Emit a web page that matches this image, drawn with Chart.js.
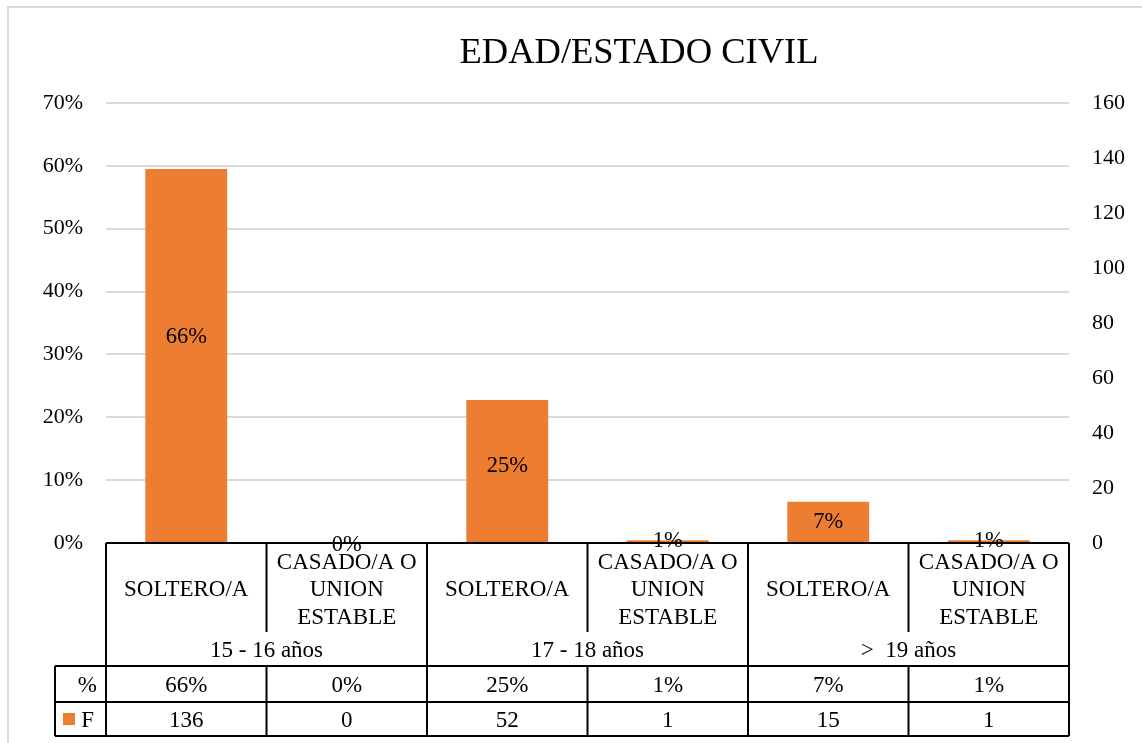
<!DOCTYPE html>
<html lang="es">

<head>
    <meta charset="UTF-8">
    <title>Edad / Estado civil</title>
    <script src="https://cdn.jsdelivr.net/npm/chart.js"></script>
    <style>
        body {
            margin: 0;
            background: #fff;
        }

        #wrap {
            width: 1142px;
            height: 743px;
        }
    </style>
</head>

<body>
    <div id="wrap"><canvas id="chart" width="1142" height="743"></canvas></div>

    <script>
        // datos
        const subCategorias = ['SOLTERO/A', 'CASADO/A O\nUNION\nESTABLE', 'SOLTERO/A', 'CASADO/A O\nUNION\nESTABLE', 'SOLTERO/A', 'CASADO/A O\nUNION\nESTABLE'];
        const grupos = ['15 - 16 años', '17 - 18 años', '>  19 años'];
        const frecuencia = [136, 0, 52, 1, 15, 1];
        const porcentaje = [0.66, 0, 0.25, 0.01, 0.07, 0.01];
        const ticksPct = [0, 0.1, 0.2, 0.3, 0.4, 0.5, 0.6, 0.7];
        const ticksF = [0, 20, 40, 60, 80, 100, 120, 140, 160];
        const titulo = 'EDAD/ESTADO CIVIL';

        const FUENTE = '"Liberation Serif", "Times New Roman", serif';
        const NARANJA = '#ED7D31';
        const pctTxt = v => Math.round(v * 100) + '%';

        // marco gris exterior + título (desplazado a la derecha como en Excel)
        const marco = {
            id: 'marco',
            beforeDraw(chart) {
                const ctx = chart.ctx;
                ctx.save();
                ctx.strokeStyle = '#d9d9d9';
                ctx.lineWidth = 2;
                ctx.beginPath();
                ctx.moveTo(8, 743);
                ctx.lineTo(8, 7);
                ctx.lineTo(1142, 7);
                ctx.stroke();

                ctx.fillStyle = '#000';
                ctx.font = '36.5px ' + FUENTE;
                ctx.textAlign = 'center';
                ctx.textBaseline = 'alphabetic';
                ctx.fillText(titulo, 639, 63);
                ctx.restore();
            }
        };

        // etiquetas dentro de las barras (serie % invisible)
        const etiquetas = {
            id: 'etiquetas',
            afterDatasetsDraw(chart) {
                const ctx = chart.ctx;
                const meta = chart.getDatasetMeta(1);
                ctx.save();
                ctx.font = '22.5px ' + FUENTE;
                ctx.fillStyle = '#000';
                ctx.textAlign = 'center';
                ctx.textBaseline = 'middle';
                meta.data.forEach((bar, i) => {
                    ctx.fillText(pctTxt(porcentaje[i]), bar.x, (bar.y + bar.base) / 2 + 2);
                });
                ctx.restore();
            }
        };

        // tabla de datos bajo el eje
        const tabla = {
            id: 'tabla',
            afterDraw(chart) {
                const ctx = chart.ctx;
                const area = chart.chartArea;
                const x = chart.scales.x;
                const n = subCategorias.length;
                const w = (area.right - area.left) / n;
                const y0 = area.bottom;
                const yCat = 632, yGrp = 666, yPct = 702, yF = 736, xLeg = 55;

                ctx.save();
                ctx.strokeStyle = '#000';
                ctx.lineWidth = 2;
                ctx.beginPath();
                ctx.moveTo(area.left, y0); ctx.lineTo(area.right, y0);
                [yGrp, yPct, yF].forEach(y => { ctx.moveTo(xLeg, y); ctx.lineTo(area.right, y); });
                ctx.moveTo(xLeg, yGrp); ctx.lineTo(xLeg, yF);
                for (let i = 0; i <= n; i++) {
                    const xx = area.left + i * w;
                    if (i % 2 === 0) {
                        ctx.moveTo(xx, y0); ctx.lineTo(xx, yF);
                    } else {
                        ctx.moveTo(xx, y0); ctx.lineTo(xx, yCat);
                        ctx.moveTo(xx, yGrp); ctx.lineTo(xx, yF);
                    }
                }
                ctx.stroke();

                ctx.fillStyle = '#000';
                ctx.font = '23px ' + FUENTE;
                ctx.textAlign = 'center';
                ctx.textBaseline = 'middle';

                subCategorias.forEach((lab, i) => {
                    const cx = x.getPixelForValue(i);
                    const lineas = lab.split('\n');
                    const alto = 27.5;
                    const ini = 590 - (lineas.length - 1) * alto / 2;
                    lineas.forEach((l, k) => ctx.fillText(l, cx, ini + k * alto));
                    ctx.fillText(pctTxt(porcentaje[i]), cx, 686);
                    ctx.fillText(String(frecuencia[i]), cx, 721);
                });
                grupos.forEach((g, j) => {
                    ctx.fillText(g, area.left + (2 * j + 1) * w, 651);
                });

                ctx.textAlign = 'right';
                ctx.fillText('%', 97, 686);
                ctx.fillText('F', 94, 721);
                ctx.fillStyle = NARANJA;
                ctx.fillRect(63, 713, 12, 12);
                ctx.restore();
            }
        };

        new Chart(document.getElementById('chart'), {
            type: 'bar',
            data: {
                labels: subCategorias,
                datasets: [{
                    label: 'F',
                    data: frecuencia,
                    yAxisID: 'y1',
                    backgroundColor: NARANJA,
                    grouped: false,
                    barPercentage: 0.51,
                    categoryPercentage: 1
                }, {
                    label: '%',
                    data: porcentaje,
                    yAxisID: 'y',
                    backgroundColor: 'rgba(0,0,0,0)',
                    grouped: false,
                    barPercentage: 0.51,
                    categoryPercentage: 1
                }]
            },
            options: {
                responsive: false,
                animation: false,
                layout: { padding: { top: 103, bottom: 200, left: 0, right: 0 } },
                plugins: {
                    legend: { display: false },
                    tooltip: { enabled: false },
                    title: { display: false }
                },
                scales: {
                    x: { display: false },
                    y: {
                        position: 'left',
                        min: 0,
                        max: 0.7,
                        afterBuildTicks: s => { s.ticks = ticksPct.map(v => ({ value: v })); },
                        afterFit: s => { s.width = 106; },
                        ticks: {
                            padding: 23,
                            color: '#000',
                            font: { family: FUENTE, size: 22 },
                            callback: v => pctTxt(v)
                        },
                        grid: { color: '#d9d9d9', lineWidth: 2, drawTicks: false },
                        border: { display: false }
                    },
                    y1: {
                        position: 'right',
                        min: 0,
                        max: 160,
                        afterBuildTicks: s => { s.ticks = ticksF.map(v => ({ value: v })); },
                        afterFit: s => { s.width = 73; },
                        ticks: {
                            padding: 23,
                            color: '#000',
                            font: { family: FUENTE, size: 22 }
                        },
                        grid: { drawOnChartArea: false, drawTicks: false },
                        border: { display: false }
                    }
                }
            },
            plugins: [marco, etiquetas, tabla]
        });
    </script>
</body>

</html>
